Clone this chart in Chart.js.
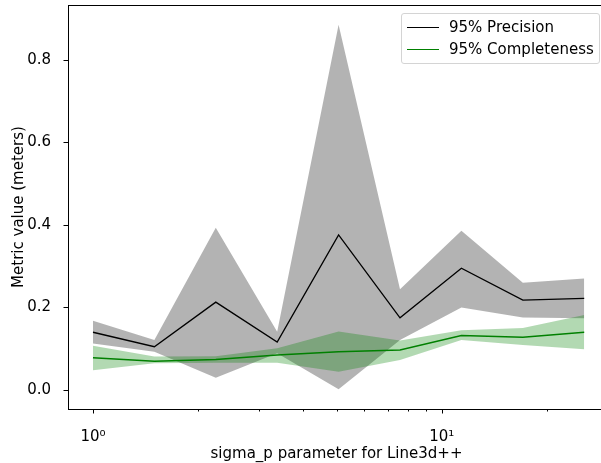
<!DOCTYPE html>
<html>
<head>
<meta charset="utf-8">
<script src="https://cdn.jsdelivr.net/npm/chart.js@4"></script>
<style>
  html, body { margin: 0; padding: 0; background: #fff; overflow: hidden; }
  #wrap { position: relative; width: 601px; height: 463px; overflow: hidden; }
  #chart { position: absolute; left: 0; top: 0; }
  #legend {
    position: absolute; left: 401px; top: 13px; width: 197px; height: 49px;
    border: 1px solid #d4d4d4; border-radius: 3px; background: rgba(255,255,255,0.8);
    font: 15px "DejaVu Sans", sans-serif; color: #000;
  }
  #legend div { position: absolute; left: 5px; height: 18px; line-height: 18px; white-space: nowrap; }
  #legend span.ln { display: inline-block; width: 32px; height: 1.5px; vertical-align: middle; margin-right: 10px; }
</style>
</head>
<body>
<div id="wrap">
  <canvas id="chart" width="606" height="463"></canvas>
  <div id="legend">
    <div style="top:4px"><span class="ln" style="background:#000"></span>95% Precision</div>
    <div style="top:26px"><span class="ln" style="background:#008000"></span>95% Completeness</div>
  </div>
</div>
<script>
// sigma_p values (x)
const sigmaP = [1, 1.5, 2.25, 3.375, 5.0625, 7.594, 11.39, 17.09, 25.63];

// 95% precision: mean, upper, lower
const precision    = [0.140, 0.105, 0.213, 0.116, 0.376, 0.175, 0.295, 0.218, 0.222];
const precisionHi  = [0.168, 0.121, 0.393, 0.141, 0.885, 0.244, 0.386, 0.260, 0.270];
const precisionLo  = [0.113, 0.093, 0.030, 0.089, 0.002, 0.121, 0.200, 0.176, 0.174];

// 95% completeness: mean, upper, lower
const completeness   = [0.078, 0.070, 0.074, 0.085, 0.093, 0.097, 0.132, 0.128, 0.140];
const completenessHi = [0.107, 0.081, 0.082, 0.101, 0.142, 0.120, 0.145, 0.150, 0.182];
const completenessLo = [0.048, 0.065, 0.066, 0.066, 0.044, 0.073, 0.121, 0.109, 0.099];

const yTicks = [0, 0.2, 0.4, 0.6, 0.8];
const xTicks = [1, 2, 3, 4, 5, 6, 7, 8, 9, 10, 20];

const pts = arr => arr.map((v, i) => ({ x: sigmaP[i], y: v }));

const base = { pointRadius: 0, tension: 0, borderWidth: 0 };
const font = { family: 'DejaVu Sans', size: 15 };

// 画坐标框和刻度
const framePlugin = {
  id: 'frame',
  afterDraw(chart) {
    const { ctx, chartArea: a, scales } = chart;
    ctx.save();
    ctx.strokeStyle = '#000';
    ctx.lineWidth = 1;
    ctx.strokeRect(a.left + 0.5, a.top + 0.5, a.right - a.left - 1, a.bottom - a.top);
    // x ticks
    xTicks.forEach(v => {
      const px = Math.round(scales.x.getPixelForValue(v)) + 0.5;
      const len = (v === 1 || v === 10) ? 4.5 : 2.5;
      ctx.beginPath();
      ctx.moveTo(px, a.bottom);
      ctx.lineTo(px, a.bottom + len);
      ctx.stroke();
    });
    // y ticks
    yTicks.forEach(v => {
      const py = Math.round(scales.y.getPixelForValue(v)) + 0.5;
      ctx.beginPath();
      ctx.moveTo(a.left - 4.5, py);
      ctx.lineTo(a.left, py);
      ctx.stroke();
    });
    // x label, centred on the axes
    ctx.fillStyle = '#000';
    ctx.font = '15px "DejaVu Sans"';
    ctx.textAlign = 'center';
    ctx.textBaseline = 'alphabetic';
    ctx.fillText('sigma_p parameter for Line3d++', (a.left + a.right) / 2, 458);
    ctx.restore();
  }
};

new Chart(document.getElementById('chart').getContext('2d'), {
  type: 'line',
  data: {
    datasets: [
      { ...base, label: '95% Precision', data: pts(precision), borderColor: '#000', borderWidth: 1.3, fill: false },
      { ...base, label: '95% Completeness', data: pts(completeness), borderColor: '#008000', borderWidth: 1.5, fill: false },
      { ...base, label: 'c_hi', data: pts(completenessHi), fill: '+1', backgroundColor: 'rgba(0,128,0,0.3)' },
      { ...base, label: 'c_lo', data: pts(completenessLo), fill: false },
      { ...base, label: 'p_hi', data: pts(precisionHi), fill: '+1', backgroundColor: 'rgba(128,128,128,0.6)' },
      { ...base, label: 'p_lo', data: pts(precisionLo), fill: false }
    ]
  },
  options: {
    responsive: false,
    animation: false,
    layout: { padding: { top: 5, right: 1, left: 0, bottom: 0 } },
    plugins: { legend: { display: false }, tooltip: { enabled: false } },
    scales: {
      x: {
        type: 'logarithmic',
        min: 0.848,
        max: 29.4,
        afterBuildTicks: s => { s.ticks = xTicks.map(v => ({ value: v })); },
        afterFit: s => { s.height = 54; s.paddingLeft = 0; s.paddingRight = 0; },
        grid: { display: false },
        border: { display: false },
        ticks: {
          autoSkip: false, maxRotation: 0, padding: 11,
          color: '#000', font,
          callback: v => v === 1 ? '10\u2070' : (v === 10 ? '10\u00b9' : '')
        }
      },
      y: {
        min: -0.046,
        max: 0.933,
        afterBuildTicks: s => { s.ticks = yTicks.map(v => ({ value: v })); },
        afterFit: s => { s.width = 68; s.paddingTop = 0; s.paddingBottom = 0; },
        grid: { display: false },
        border: { display: false },
        ticks: {
          padding: 9, color: '#000', font,
          callback: v => v.toFixed(1)
        },
        title: {
          display: true, text: 'Metric value (meters)', color: '#000',
          font, padding: { top: 10, bottom: 0 }
        }
      }
    }
  },
  plugins: [framePlugin]
});
</script>
</body>
</html>
